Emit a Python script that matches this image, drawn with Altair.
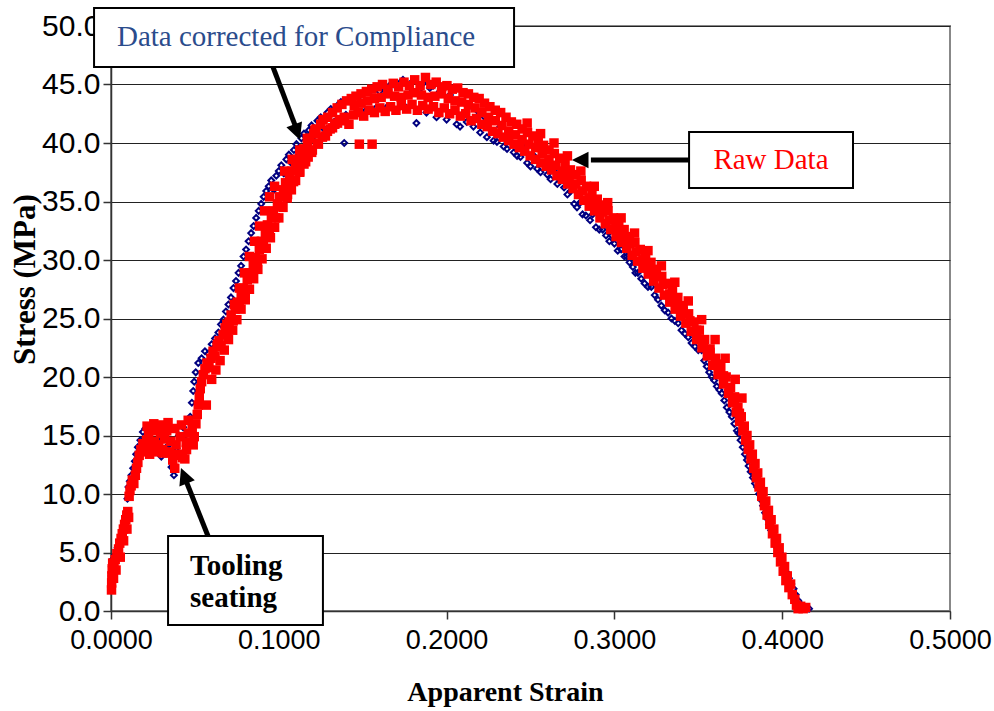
import altair as alt
import pandas as pd

# Raw (uncorrected) stress-strain readings: (apparent strain, stress in MPa)
raw_points = [
    (0.0003, 1.8), (0.0004, 2.4), (0.0005, 3.0), (0.0007, 3.6), (0.0010, 4.1), (0.0018, 3.8),
    (0.0025, 4.4), (0.0035, 4.9), (0.0045, 5.3), (0.0052, 5.8), (0.0060, 6.2), (0.0067, 6.6),
    (0.0074, 7.0), (0.0081, 7.4), (0.0088, 7.8), (0.0094, 8.2), (0.0100, 8.5),
    (0.0108, 9.8), (0.0113, 10.3), (0.0120, 10.7), (0.0127, 11.2), (0.0136, 10.9), (0.0145, 11.6),
    (0.0152, 12.2), (0.0160, 12.7), (0.0168, 13.3), (0.0178, 13.8), (0.0190, 14.3),
    (0.0200, 13.6), (0.0212, 14.6), (0.0224, 15.1), (0.0236, 14.0), (0.0248, 15.4), (0.0260, 14.5),
    (0.0272, 15.6), (0.0284, 14.2), (0.0296, 15.2), (0.0308, 13.8), (0.0320, 14.7), (0.0332, 15.4),
    (0.0344, 13.6), (0.0356, 14.5), (0.0368, 12.9), (0.0380, 12.2), (0.0388, 14.2), (0.0400, 13.4),
    (0.0412, 14.9), (0.0426, 13.1), (0.0440, 13.0), (0.0448, 14.4), (0.0460, 15.2), (0.0472, 14.4),
    (0.0484, 15.7), (0.0496, 14.9), (0.0506, 16.0),
    (0.0514, 16.8), (0.0520, 17.6), (0.0526, 18.3), (0.0532, 19.0), (0.0540, 19.6), (0.0550, 20.2),
    (0.0568, 17.6), (0.0560, 20.7), (0.0572, 21.2), (0.0584, 20.8), (0.0596, 21.6), (0.0608, 22.2),
    (0.0620, 21.8), (0.0632, 22.6), (0.0644, 23.1), (0.0656, 22.7), (0.0668, 23.6), (0.0680, 24.2),
    (0.0692, 23.9), (0.0704, 24.7), (0.0716, 25.3), (0.0728, 24.8), (0.0740, 25.8), (0.0752, 26.4),
    (0.0764, 26.0), (0.0776, 27.0), (0.0788, 27.6), (0.0800, 27.2), (0.0812, 28.3), (0.0824, 28.9),
    (0.0836, 28.5), (0.0848, 29.6), (0.0860, 30.2), (0.0872, 29.8), (0.0884, 30.9), (0.0896, 31.6),
    (0.0908, 31.2), (0.0920, 32.3), (0.0932, 33.0), (0.0944, 32.5), (0.0956, 33.6), (0.0968, 34.2),
    (0.0980, 33.6), (0.0992, 34.8), (0.1004, 35.4), (0.1016, 34.6), (0.1028, 36.0), (0.1040, 36.6),
    (0.1052, 35.6), (0.1064, 37.1), (0.1076, 37.6), (0.1088, 36.7), (0.1100, 38.1), (0.1112, 38.6),
    (0.1124, 37.6), (0.1136, 39.0), (0.1148, 39.5), (0.1160, 38.4), (0.1172, 39.9), (0.1184, 40.4),
    (0.1196, 39.2), (0.1208, 40.8), (0.1222, 41.2), (0.1236, 39.9), (0.1250, 41.6), (0.1264, 42.0),
    (0.1278, 40.6), (0.1292, 42.2), (0.1306, 41.2), (0.1320, 42.6), (0.1334, 41.6), (0.1348, 43.0),
    (0.1362, 42.0), (0.1376, 43.3), (0.1390, 42.2), (0.1404, 43.6), (0.1418, 41.6), (0.1432, 43.8),
    (0.1446, 42.4), (0.1460, 44.0), (0.1480, 39.9), (0.1474, 42.6), (0.1490, 44.2), (0.1506, 42.3),
    (0.1522, 44.4), (0.1538, 42.8), (0.1556, 39.9), (0.1554, 44.6), (0.1570, 42.6), (0.1586, 44.8),
    (0.1602, 43.0), (0.1618, 45.0), (0.1634, 42.7), (0.1650, 44.6), (0.1666, 43.1), (0.1682, 45.1),
    (0.1698, 42.8), (0.1714, 44.8), (0.1730, 43.2), (0.1746, 45.2), (0.1762, 42.9), (0.1778, 44.9),
    (0.1794, 43.3), (0.1810, 45.4), (0.1826, 42.8), (0.1842, 44.9), (0.1858, 43.2), (0.1874, 45.6),
    (0.1890, 42.9), (0.1906, 45.0), (0.1922, 43.1), (0.1938, 45.2), (0.1954, 42.6), (0.1970, 44.8),
    (0.1986, 43.0), (0.2002, 44.9), (0.2018, 42.5), (0.2034, 44.6), (0.2050, 42.8), (0.2066, 44.7),
    (0.2082, 42.3), (0.2098, 44.3), (0.2114, 42.5), (0.2130, 44.2), (0.2146, 41.9), (0.2162, 43.9),
    (0.2178, 42.1), (0.2194, 43.8), (0.2210, 41.6), (0.2226, 43.4), (0.2242, 41.4), (0.2258, 43.1),
    (0.2274, 41.0), (0.2290, 42.8), (0.2306, 40.8), (0.2322, 42.6), (0.2338, 40.5), (0.2354, 42.2),
    (0.2370, 40.2), (0.2386, 41.8), (0.2402, 39.9), (0.2418, 41.6), (0.2434, 39.6), (0.2450, 41.2),
    (0.2466, 39.3), (0.2482, 40.9), (0.2498, 38.9), (0.2514, 40.6), (0.2530, 38.6), (0.2546, 40.2),
    (0.2562, 38.3), (0.2578, 39.8), (0.2594, 38.0), (0.2610, 39.4), (0.2626, 37.7), (0.2642, 39.1),
    (0.2658, 37.2), (0.2674, 38.7), (0.2690, 36.9), (0.2706, 38.2), (0.2722, 36.5), (0.2738, 37.7),
    (0.2754, 36.1), (0.2770, 37.3), (0.2786, 35.6), (0.2802, 36.8), (0.2818, 35.1), (0.2834, 36.3),
    (0.2850, 34.6), (0.2866, 35.8), (0.2882, 34.2), (0.2898, 35.2), (0.2914, 33.6), (0.2930, 34.7),
    (0.2946, 33.1), (0.2962, 34.2), (0.2978, 32.6), (0.2994, 33.6), (0.3010, 32.0), (0.3026, 33.1),
    (0.3042, 31.5), (0.3058, 32.6), (0.3074, 31.0), (0.3090, 32.0), (0.3106, 30.4), (0.3122, 31.5),
    (0.3138, 29.9), (0.3154, 30.9), (0.3170, 29.3), (0.3186, 30.4), (0.3202, 28.8), (0.3218, 29.8),
    (0.3234, 28.2), (0.3250, 29.2), (0.3266, 27.6), (0.3282, 28.6), (0.3298, 27.0), (0.3314, 28.0),
    (0.3330, 26.4), (0.3346, 27.4), (0.3362, 25.8), (0.3378, 26.8), (0.3394, 25.2), (0.3410, 26.1),
    (0.3426, 24.6), (0.3442, 25.4), (0.3458, 23.9), (0.3474, 24.7), (0.3490, 23.2), (0.3506, 24.0),
    (0.3522, 22.5), (0.3538, 23.2), (0.3554, 21.8), (0.3570, 22.4), (0.3586, 21.0), (0.3602, 21.6),
    (0.3618, 20.2), (0.3634, 20.8), (0.3650, 19.4), (0.3666, 20.0), (0.3680, 18.6), (0.3692, 19.1),
    (0.3704, 17.8), (0.3716, 18.3), (0.3726, 17.0), (0.3736, 17.4), (0.3746, 16.2), (0.3756, 16.6),
    (0.3766, 15.4), (0.3774, 15.8), (0.3782, 14.6), (0.3790, 15.0), (0.3798, 13.8), (0.3806, 14.2),
    (0.3814, 13.0), (0.3822, 13.4), (0.3830, 12.2), (0.3838, 12.6), (0.3846, 11.4), (0.3854, 11.8),
    (0.3862, 10.6), (0.3870, 11.0), (0.3878, 9.8), (0.3886, 10.2), (0.3894, 9.0), (0.3902, 9.4),
    (0.3910, 8.2), (0.3918, 8.6), (0.3926, 7.4), (0.3934, 7.8), (0.3942, 6.6), (0.3950, 7.0),
    (0.3958, 5.8), (0.3966, 6.2), (0.3974, 5.0), (0.3982, 5.4), (0.3990, 4.2), (0.3998, 4.6),
    (0.4006, 3.4), (0.4014, 3.8), (0.4022, 2.6), (0.4030, 3.0), (0.4040, 2.0), (0.4050, 2.3),
    (0.4060, 1.4), (0.4075, 1.0), (0.4085, 0.5), (0.4095, 0.2), (0.4110, 0.4), (0.4125, 0.2),
    (0.4140, 0.3),
]

# Further raw readings lying inside the scatter band (seating plateau, loading side, peak, unloading)
raw_band_points = [
    (0.0015, 2.8), (0.0030, 3.5), (0.0055, 4.6), (0.0075, 6.0), (0.0095, 7.0), (0.0105, 8.0),
    (0.0215, 15.8), (0.0255, 16.0), (0.0300, 15.9), (0.0340, 16.1), (0.0380, 15.6), (0.0420, 15.9),
    (0.0460, 16.3), (0.0230, 13.4), (0.0270, 13.6), (0.0310, 13.5), (0.0350, 13.5), (0.0395, 13.3),
    (0.0450, 13.8), (0.0490, 14.2),
    (0.0600, 19.8), (0.0625, 20.6), (0.0650, 21.4), (0.0675, 22.3), (0.0700, 23.2), (0.0725, 24.0),
    (0.0750, 24.9), (0.0775, 25.8), (0.0800, 26.6), (0.0825, 27.5), (0.0850, 28.4), (0.0875, 29.2),
    (0.0900, 30.1), (0.0925, 31.0), (0.0950, 31.9), (0.0975, 32.8), (0.1000, 33.6), (0.1025, 34.5),
    (0.1050, 35.3), (0.1075, 36.0), (0.1100, 36.8), (0.1125, 37.5), (0.1150, 38.2), (0.1175, 38.8),
    (0.1200, 39.4), (0.1230, 40.0), (0.1260, 40.5), (0.1290, 41.0), (0.1320, 41.3), (0.1350, 41.7),
    (0.1380, 41.9),
    (0.0635, 22.8), (0.0690, 24.5), (0.0735, 26.2), (0.0765, 27.6), (0.0795, 28.9), (0.0825, 30.3),
    (0.0855, 31.6), (0.0885, 32.9), (0.0915, 34.2), (0.0945, 35.4), (0.0975, 36.3), (0.1035, 37.6),
    (0.1080, 38.6), (0.1125, 39.4), (0.1170, 40.4), (0.1215, 41.1),
    (0.1450, 43.2), (0.1530, 43.6), (0.1610, 43.9), (0.1690, 44.0), (0.1770, 44.1), (0.1850, 44.1),
    (0.1930, 44.0), (0.2010, 43.8), (0.2090, 43.5), (0.2170, 43.0),
    (0.1490, 43.4), (0.1570, 43.8), (0.1650, 44.2), (0.1730, 43.9), (0.1810, 44.3), (0.1890, 43.9),
    (0.1970, 44.2), (0.2050, 43.6), (0.2130, 43.3), (0.2210, 42.6),
    (0.2250, 42.2), (0.2290, 41.9), (0.2330, 41.5), (0.2370, 41.0), (0.2410, 40.7), (0.2450, 40.3),
    (0.2490, 39.9), (0.2530, 39.6), (0.2570, 39.1), (0.2610, 38.6), (0.2650, 38.1), (0.2690, 37.6),
    (0.2730, 37.1), (0.2770, 36.5), (0.2810, 35.9), (0.2850, 35.3), (0.2890, 34.7), (0.2930, 34.1),
    (0.2970, 33.4), (0.3010, 32.7), (0.3050, 32.1), (0.3090, 31.4), (0.3130, 30.7), (0.3170, 30.0),
    (0.3210, 29.3), (0.3250, 28.6), (0.3290, 27.9), (0.3330, 27.1), (0.3370, 26.4), (0.3410, 25.6),
    (0.3450, 24.8), (0.3490, 24.0), (0.3530, 23.1), (0.3570, 22.1), (0.3610, 21.1), (0.3650, 20.1),
    (0.3685, 19.1), (0.3715, 18.0), (0.3745, 16.9),
    (0.2480, 41.7), (0.2560, 40.8), (0.2640, 40.0), (0.2720, 38.9), (0.2800, 37.6), (0.2880, 36.3),
    (0.2960, 34.9), (0.3040, 33.6), (0.3120, 32.3), (0.3200, 30.8), (0.3280, 29.5), (0.3360, 28.1),
    (0.3440, 26.5), (0.3520, 24.9), (0.3600, 23.2), (0.3660, 21.6), (0.3720, 19.8), (0.3760, 18.2),
]

# Compliance-corrected readings: (apparent strain, stress in MPa)
corrected_points = [
    (0.0002, 2.2), (0.0004, 3.0), (0.0006, 3.8), (0.0010, 4.4), (0.0025, 4.8), (0.0040, 5.4),
    (0.0055, 6.0), (0.0068, 6.7), (0.0080, 7.4), (0.0090, 8.0), (0.0098, 9.6), (0.0104, 10.6),
    (0.0112, 11.1), (0.0122, 11.6), (0.0132, 12.2), (0.0142, 12.8), (0.0150, 13.4), (0.0160, 14.0),
    (0.0175, 14.6), (0.0190, 15.3), (0.0205, 15.6), (0.0220, 14.4), (0.0235, 15.5), (0.0250, 14.1),
    (0.0265, 15.8), (0.0280, 14.6), (0.0300, 13.2), (0.0315, 15.6), (0.0330, 16.1), (0.0345, 14.2),
    (0.0360, 12.3), (0.0375, 11.6), (0.0390, 13.9), (0.0405, 15.0), (0.0420, 13.4), (0.0430, 15.7),
    (0.0445, 14.6), (0.0460, 16.2), (0.0472, 16.6), (0.0482, 17.8), (0.0490, 18.8), (0.0496, 19.6),
    (0.0505, 20.4), (0.0520, 21.2), (0.0540, 21.6), (0.0560, 22.2), (0.0580, 22.0), (0.0600, 22.8),
    (0.0620, 23.3), (0.0640, 23.8), (0.0655, 24.5), (0.0670, 24.9), (0.0685, 25.6), (0.0700, 26.2),
    (0.0715, 26.8), (0.0730, 27.6), (0.0745, 28.2), (0.0760, 28.9), (0.0775, 29.5), (0.0790, 30.3),
    (0.0805, 30.9), (0.0820, 31.6), (0.0835, 32.3), (0.0850, 32.9), (0.0865, 33.6), (0.0880, 34.2),
    (0.0895, 34.8), (0.0910, 35.4), (0.0925, 35.9), (0.0940, 36.3), (0.0955, 36.8), (0.0970, 36.0),
    (0.0985, 37.2), (0.1000, 37.6), (0.1015, 38.1), (0.1030, 37.4), (0.1045, 38.6), (0.1060, 39.0),
    (0.1075, 38.3), (0.1090, 39.4), (0.1105, 39.9), (0.1120, 39.0), (0.1135, 40.4), (0.1150, 40.8),
    (0.1165, 39.9), (0.1180, 41.1), (0.1195, 41.5), (0.1210, 40.6), (0.1230, 41.9), (0.1250, 42.2),
    (0.1270, 41.2), (0.1290, 42.6), (0.1310, 42.9), (0.1330, 41.8), (0.1350, 43.2), (0.1370, 43.5),
    (0.1390, 40.0), (0.1400, 42.4), (0.1420, 43.7), (0.1440, 43.9), (0.1460, 42.6), (0.1480, 44.0),
    (0.1500, 44.2), (0.1520, 42.8), (0.1540, 44.4), (0.1560, 44.6), (0.1580, 43.0), (0.1600, 44.4),
    (0.1620, 44.8), (0.1640, 43.0), (0.1660, 44.9), (0.1680, 45.0), (0.1700, 42.8), (0.1720, 45.1),
    (0.1740, 45.4), (0.1760, 43.0), (0.1780, 44.8), (0.1800, 45.3), (0.1820, 41.7), (0.1840, 44.6),
    (0.1860, 45.1), (0.1880, 42.6), (0.1900, 44.7), (0.1920, 44.9), (0.1940, 42.2), (0.1960, 44.4),
    (0.1980, 44.6), (0.2000, 42.0), (0.2020, 44.1), (0.2040, 43.6), (0.2060, 41.6), (0.2080, 41.4),
    (0.2100, 43.5), (0.2120, 41.8), (0.2140, 43.2), (0.2160, 41.4), (0.2180, 42.8), (0.2200, 40.9),
    (0.2220, 42.3), (0.2240, 40.5), (0.2260, 41.9), (0.2280, 40.2), (0.2300, 40.1), (0.2320, 41.4),
    (0.2340, 39.7), (0.2360, 39.5), (0.2380, 40.6), (0.2400, 39.2), (0.2420, 38.9), (0.2440, 38.8),
    (0.2460, 39.6), (0.2480, 38.3), (0.2500, 38.0), (0.2520, 38.9), (0.2540, 37.8), (0.2560, 37.5),
    (0.2580, 38.2), (0.2600, 37.3), (0.2620, 36.9), (0.2640, 37.6), (0.2660, 36.5), (0.2680, 36.8),
    (0.2700, 36.2), (0.2720, 35.6), (0.2740, 35.9), (0.2760, 34.8), (0.2777, 34.5), (0.2795, 34.9),
    (0.2810, 33.9), (0.2830, 33.8), (0.2855, 33.4), (0.2870, 33.9), (0.2890, 32.8), (0.2910, 32.6),
    (0.2930, 32.6), (0.2950, 32.1), (0.2970, 31.6), (0.2985, 32.1), (0.3000, 31.4), (0.3020, 30.8),
    (0.3040, 30.9), (0.3060, 30.3), (0.3075, 30.3), (0.3090, 29.8), (0.3110, 29.4), (0.3125, 28.9),
    (0.3140, 28.9), (0.3160, 28.4), (0.3180, 28.0), (0.3200, 27.7), (0.3220, 27.7), (0.3240, 27.0),
    (0.3260, 26.6), (0.3280, 26.1), (0.3300, 25.7), (0.3320, 25.5), (0.3340, 25.0), (0.3360, 24.8),
    (0.3380, 24.6), (0.3400, 24.0), (0.3420, 23.7), (0.3440, 23.4), (0.3460, 22.9), (0.3480, 22.6),
    (0.3500, 22.3), (0.3520, 22.3), (0.3535, 21.4), (0.3550, 20.9), (0.3565, 20.4), (0.3580, 20.0),
    (0.3595, 19.7), (0.3610, 19.2), (0.3625, 18.9), (0.3640, 18.6), (0.3655, 18.0), (0.3670, 17.4),
    (0.3685, 17.0), (0.3700, 16.6), (0.3715, 16.0), (0.3730, 15.4), (0.3740, 15.2), (0.3752, 14.6),
    (0.3765, 14.0), (0.3778, 13.4), (0.3790, 12.9), (0.3800, 12.4), (0.3812, 11.9), (0.3825, 11.4),
    (0.3838, 10.9), (0.3850, 10.6), (0.3862, 10.0), (0.3874, 9.5), (0.3886, 9.0), (0.3898, 8.4),
    (0.3910, 7.9), (0.3922, 7.4), (0.3934, 6.9), (0.3946, 6.4), (0.3958, 5.9), (0.3970, 5.4),
    (0.3985, 5.0), (0.3998, 4.4), (0.4012, 3.9), (0.4026, 3.3), (0.4040, 2.8), (0.4054, 2.3),
    (0.4068, 1.9), (0.4080, 1.4), (0.4095, 0.9), (0.4110, 0.6), (0.4125, 0.4), (0.4140, 0.3),
    (0.4160, 0.2),
]

strain_ticks = [0.0, 0.1, 0.2, 0.3, 0.4, 0.5]
stress_ticks = [0, 5, 10, 15, 20, 25, 30, 35, 40, 45, 50]

# Call-out boxes: (strain_left, strain_right, stress_top, stress_bottom)
callout_boxes = [
    (-0.0101, 0.2402, 51.54, 46.50),
    (0.3445, 0.4422, 40.94, 36.15),
    (0.0340, 0.1263, 6.41, -1.20),
]
# Series call-out labels: (strain, stress, text, colour)
series_labels = [
    (0.1103, 49.06, "Data corrected for Compliance", "#2B4C8C"),
    (0.3933, 38.55, "Raw Data", "#FF0000"),
]
# Bold note inside the lower box: (strain, stress, text)
note_lines = [
    (0.0471, 3.85, "Tooling"),
    (0.0471, 1.11, "seating"),
]
# Arrow shafts: (from strain, from stress, to strain, to stress)
arrow_shafts = [
    (0.0965, 46.50, 0.1100, 41.40),
    (0.3445, 38.55, 0.2860, 38.55),
    (0.0578, 6.41, 0.0445, 11.20),
]
# Arrow heads: (tip strain, tip stress, direction angle in degrees)
arrow_heads = [
    (0.1126, 40.26, 159.7),
    (0.2747, 38.55, 270.0),
    (0.0417, 12.22, 338.3),
]

raw = pd.DataFrame(raw_points + raw_band_points, columns=["strain", "stress"])
corrected = pd.DataFrame(corrected_points, columns=["strain", "stress"])
boxes = pd.DataFrame(callout_boxes, columns=["strain", "strain_end", "stress", "stress_end"])
labels = pd.DataFrame(series_labels, columns=["strain", "stress", "text", "colour"])
notes = pd.DataFrame(note_lines, columns=["strain", "stress", "text"])
shafts = pd.DataFrame(arrow_shafts, columns=["strain", "stress", "strain_end", "stress_end"])
heads = pd.DataFrame(arrow_heads, columns=["strain", "stress", "angle"])

SANS = "Liberation Sans"
SERIF = "Liberation Serif"

x_scale = alt.Scale(domain=[0, 0.5], nice=False, zero=False)
y_scale = alt.Scale(domain=[0, 50], nice=False, zero=False)

x_axis = alt.Axis(
    values=strain_ticks, format=".4f", title="Apparent Strain", grid=False,
    labelFont=SANS, labelFontSize=27, labelColor="#000", labelPadding=8, labelFlush=False,
    labelOverlap=False,
    tickColor="#333", tickSize=8, tickWidth=1.5, domainColor="#333", domainWidth=1.5,
    titleFont=SERIF, titleFontSize=28, titleFontWeight="bold", titleColor="#000",
    titleX=394, titleY=81, titleBaseline="middle", titleAlign="center",
)
y_axis = alt.Axis(
    values=stress_ticks, format=".1f", title="Stress (MPa)", grid=True,
    gridColor="#222", gridWidth=1.2,
    labelFont=SANS, labelFontSize=30, labelColor="#000", labelPadding=3, labelFlush=False,
    labelOverlap=False,
    tickColor="#333", tickSize=8, tickWidth=1.5, domainColor="#333", domainWidth=1.5,
    titleFont=SERIF, titleFontSize=31, titleFontWeight="bold", titleColor="#000",
    titleX=-86, titleY=253, titleBaseline="middle", titleAlign="center", titleAngle=270,
)

corrected_layer = alt.Chart(corrected).mark_point(
    shape="diamond", filled=False, color="#000080", size=34, strokeWidth=2, opacity=1
).encode(
    x=alt.X("strain:Q", scale=x_scale, axis=x_axis),
    y=alt.Y("stress:Q", scale=y_scale, axis=y_axis),
)

raw_layer = alt.Chart(raw).mark_point(
    shape="square", filled=True, color="#FF0000", size=90, opacity=1
).encode(x="strain:Q", y="stress:Q")

box_layer = alt.Chart(boxes).mark_rect(
    fill="white", stroke="#000", strokeWidth=2
).encode(x="strain:Q", x2="strain_end:Q", y="stress:Q", y2="stress_end:Q")

shaft_layer = alt.Chart(shafts).mark_rule(
    color="#000", strokeWidth=5
).encode(x="strain:Q", x2="strain_end:Q", y="stress:Q", y2="stress_end:Q")

head_layer = alt.Chart(heads).mark_point(
    shape="M0,0L-0.5,1L0.5,1Z", filled=True, color="#000", size=1100, opacity=1
).encode(x="strain:Q", y="stress:Q", angle=alt.Angle("angle:Q", scale=None))

label_layer = alt.Chart(labels).mark_text(
    font=SERIF, fontSize=29, baseline="middle", align="center"
).encode(
    x="strain:Q", y="stress:Q", text="text:N",
    color=alt.Color("colour:N", scale=None),
)

note_layer = alt.Chart(notes).mark_text(
    font=SERIF, fontSize=29, fontWeight="bold", baseline="middle", align="left", color="#000"
).encode(x="strain:Q", y="stress:Q", text="text:N")

chart = alt.layer(
    corrected_layer, raw_layer, shaft_layer, head_layer, box_layer, label_layer, note_layer
).properties(
    width=839, height=585,
    autosize=alt.AutoSizeParams(type="none"),
    padding={"left": 111, "top": 26, "right": 44, "bottom": 100},
    background="white",
).configure_view(stroke="#888", strokeWidth=2)

chart.save("out.html", embed_options={"renderer": "svg", "actions": False})
